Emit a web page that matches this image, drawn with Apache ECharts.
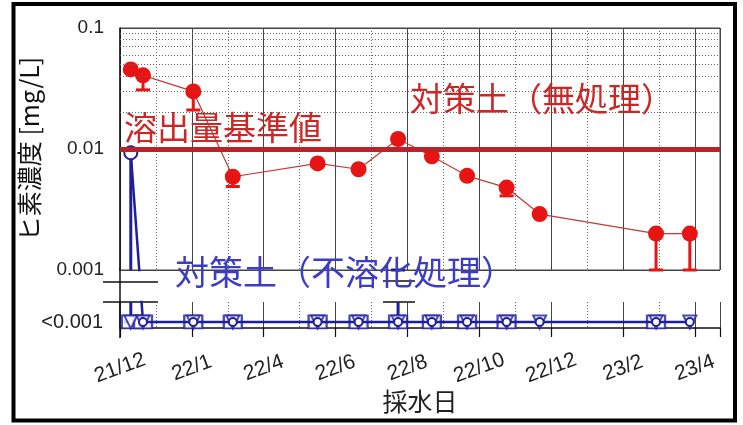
<!DOCTYPE html>
<html lang="ja">
<head>
<meta charset="utf-8">
<title>ヒ素濃度</title>
<script src="https://cdn.jsdelivr.net/npm/echarts/dist/echarts.min.js"></script>
<style>
  html, body { margin: 0; padding: 0; background: #fff; }
  #main { width: 743px; height: 425px; }
</style>
</head>
<body>
<div id="main"></div>
<script type="text/javascript">
// x axis: one unit = one labelled tick
var xLabels = ['21/12', '22/1', '22/4', '22/6', '22/8', '22/10', '22/12', '23/2', '23/4'];
var sampleX = [0.15, 0.32, 1.02, 1.57, 2.75, 3.32, 3.87, 4.34, 4.83, 5.38, 5.84, 7.46, 7.93];

// 対策土(無処理)
var redValues = [0.0455, 0.0406, 0.0299, 0.0059, 0.0076, 0.0068, 0.0121, 0.0087, 0.0060, 0.0048, 0.0029, 0.0020, 0.0020];
var redLow    = [null, 0.0308, 0.021, 0.0049, null, null, null, null, null, 0.0041, null, 0.001, 0.001];

// 対策土(不溶化処理)  ND = plotted level of "<0.001"
var ND = 0.000372;
var blueCircle = [0.0093, ND, ND, ND, ND, ND, ND, ND, ND, ND, ND, ND, ND];
var blueTri    = [ND, ND, ND, ND, ND, ND, ND, ND, ND, ND, ND, ND, ND];
var blueSquare = [ND, ND, ND, ND, ND, ND, ND, ND, ND, ND, null, ND, null];
var blueErr    = [[0.15, ND, 0.01], [3.87, ND, 0.001]];

var threshold = 0.01;
var minorLevels = [0.002, 0.003, 0.004, 0.005, 0.006, 0.007, 0.008, 0.009,
                   0.02, 0.03, 0.04, 0.05, 0.06, 0.07, 0.08, 0.09];

var RED = '#e81414', DARKRED = '#b8242a', NAVY = '#1f1f9e';
var CJK = '"Noto Sans CJK JP", sans-serif';
var LAT = '"Liberation Sans", Arial, sans-serif';

// upper grid 28..270 (0.1..0.001), lower band 302..328 on the same log scale
var decadePx = 121;
var lowMax = 0.001 / Math.pow(10, 32 / decadePx);
var lowMin = 0.001 / Math.pow(10, 58 / decadePx);
var xMax = 8.35;

function pairs(vals) {
    var out = [];
    for (var i = 0; i < vals.length; i++) {
        if (vals[i] != null) out.push([sampleX[i], vals[i]]);
    }
    return out;
}

function errRender(color, width) {
    return function (params, api) {
        var cs = params.coordSys;
        var top = cs.y, bot = cs.y + cs.height;
        var pLo = api.coord([api.value(0), api.value(1)]);
        var pHi = api.coord([api.value(0), api.value(2)]);
        var y1 = Math.max(top, Math.min(bot, pLo[1]));
        var y2 = Math.max(top, Math.min(bot, pHi[1]));
        var st = { stroke: color, lineWidth: width };
        var kids = [];
        if (y1 !== y2) kids.push({ type: 'line', shape: { x1: pLo[0], y1: y1, x2: pLo[0], y2: y2 }, style: st });
        if (pLo[1] >= top && pLo[1] <= bot && api.value(1) !== api.value(2))
            kids.push({ type: 'line', shape: { x1: pLo[0] - 7, y1: pLo[1], x2: pLo[0] + 7, y2: pLo[1] }, style: st });
        if (pHi[1] >= top && pHi[1] <= bot && color === NAVY)
            kids.push({ type: 'line', shape: { x1: pHi[0] - 7, y1: pHi[1], x2: pHi[0] + 7, y2: pHi[1] }, style: st });
        return { type: 'group', children: kids };
    };
}

var redErrData = [];
for (var i = 0; i < redValues.length; i++) {
    if (redLow[i] != null) redErrData.push([sampleX[i], redLow[i], redValues[i]]);
}

function xAxisCfg(idx, lower) {
    return {
        gridIndex: idx, type: 'value', min: 0, max: xMax, interval: 1,
        axisLine: { show: lower, onZero: false, lineStyle: { color: '#111', width: 1.5 } },
        axisTick: { show: lower, length: 9, lineStyle: { color: '#111', width: 1.2 } },
        axisLabel: {
            show: lower, rotate: 20, align: 'center', verticalAlign: 'middle', margin: 40,
            fontFamily: LAT, fontSize: 21, color: '#222',
            formatter: function (v) { return Math.abs(v - Math.round(v)) < 1e-6 ? (xLabels[Math.round(v)] || '') : ''; }
        },
        name: lower ? '採水日' : '', nameLocation: 'middle', nameGap: 60,
        nameTextStyle: { fontFamily: CJK, fontSize: 25, color: '#222' },
        splitLine: { show: true, lineStyle: { color: '#444', width: 1 } },
        minorTick: { show: false, splitNumber: 2 },
        minorSplitLine: { show: true, lineStyle: { color: '#666', width: 1, type: [1, 2] } }
    };
}

var myChart = echarts.init(document.getElementById('main'));
var option = {
    backgroundColor: '#fff',
    animation: false,
    grid: [
        { left: 120, right: 23, top: 28, height: 242, show: true, borderColor: '#444', borderWidth: 1 },
        { left: 120, right: 23, top: 302, height: 26 }
    ],
    xAxis: [xAxisCfg(0, false), xAxisCfg(1, true)],
    yAxis: [
        {
            gridIndex: 0, type: 'log', logBase: 10, min: 0.001, max: 0.1,
            axisLine: { show: true, lineStyle: { color: '#111', width: 1.5 } },
            axisTick: { show: false },
            axisLabel: {
                margin: 16, fontFamily: LAT, fontSize: 19, color: '#222',
                formatter: function (v) { return String(parseFloat(v.toPrecision(6))); }
            },
            splitLine: { show: true, lineStyle: { color: '#444', width: 1 } },
            name: 'ヒ素濃度 [mg/L]', nameLocation: 'middle', nameRotate: 90, nameGap: 78,
            nameTextStyle: { fontFamily: CJK, fontSize: 25, color: '#111' }
        },
        {
            gridIndex: 1, type: 'log', logBase: 10, min: lowMin, max: lowMax,
            axisLine: { show: true, lineStyle: { color: '#111', width: 1.5 } },
            axisTick: { show: false }, axisLabel: { show: false }, splitLine: { show: false }
        }
    ],
    graphic: [
        { type: 'rect', shape: { x: 13.5, y: 4, width: 721.5, height: 416.5 }, style: { fill: 'none', stroke: '#000', lineWidth: 4 } },
        // axis break
        { type: 'line', shape: { x1: 120, y1: 268, x2: 120, y2: 338 }, style: { stroke: '#111', lineWidth: 1.5 } },
        { type: 'line', shape: { x1: 103, y1: 282, x2: 158, y2: 282 }, style: { stroke: '#111', lineWidth: 1.5 } },
        { type: 'line', shape: { x1: 103, y1: 302, x2: 158, y2: 302 }, style: { stroke: '#111', lineWidth: 1.5 } },
        { type: 'line', shape: { x1: 383, y1: 281, x2: 415, y2: 281 }, style: { stroke: '#111', lineWidth: 1.5 } },
        { type: 'line', shape: { x1: 383, y1: 302, x2: 415, y2: 302 }, style: { stroke: '#111', lineWidth: 1.5 } },
        { type: 'text', x: 103, y: 322, style: { text: '<0.001', font: '20px ' + LAT, fill: '#222', textAlign: 'right', textVerticalAlign: 'middle' } },
        { type: 'text', x: 124, y: 127, z: 10, style: { text: '溶出量基準値', font: '33px ' + CJK, fill: '#cc2626', textVerticalAlign: 'middle' } },
        { type: 'text', x: 410, y: 98, z: 10, style: { text: '対策土（無処理）', font: '33px ' + CJK, fill: '#cc2626', textVerticalAlign: 'middle' } },
        { type: 'text', x: 175, y: 272, z: 10, style: { text: '対策土（不溶化処理）', font: '34px ' + CJK, fill: '#3c3cc4', textVerticalAlign: 'middle' } }
    ],
    series: [
        {   // minor log grid + threshold
            type: 'line', xAxisIndex: 0, yAxisIndex: 0, z: 1, silent: true,
            data: [[0, threshold]], symbol: 'none', lineStyle: { opacity: 0 },
            markLine: {
                silent: true, symbol: 'none', label: { show: false }, animation: false,
                data: minorLevels.map(function (v) {
                    return { yAxis: v, lineStyle: { color: '#666', width: 1, type: [1, 2] } };
                }).concat([{ yAxis: threshold, lineStyle: { color: DARKRED, width: 5, type: 'solid' } }])
            }
        },
        {   // ND level line in the lower band
            type: 'line', xAxisIndex: 1, yAxisIndex: 1, z: 1, silent: true,
            data: [[0, ND]], symbol: 'none', lineStyle: { opacity: 0 },
            markLine: {
                silent: true, symbol: 'none', animation: false, label: { show: false },
                lineStyle: { color: '#14144a', width: 1.5, type: 'solid' },
                data: [{ yAxis: ND }]
            }
        },
        {
            type: 'custom', xAxisIndex: 0, yAxisIndex: 0, z: 3, silent: true,
            renderItem: errRender(RED, 3), encode: { x: 0, y: [1, 2] }, data: redErrData
        },
        {
            name: '対策土(無処理)', type: 'line', xAxisIndex: 0, yAxisIndex: 0, z: 4,
            data: pairs(redValues), symbol: 'circle', symbolSize: 16,
            itemStyle: { color: RED }, lineStyle: { color: '#c23a3a', width: 1.2 }
        },
        {
            type: 'custom', xAxisIndex: 0, yAxisIndex: 0, z: 3, silent: true,
            renderItem: errRender(NAVY, 3), encode: { x: 0, y: [1, 2] }, data: blueErr
        },
        {
            type: 'custom', xAxisIndex: 1, yAxisIndex: 1, z: 3, silent: true,
            renderItem: errRender(NAVY, 3), encode: { x: 0, y: [1, 2] }, data: blueErr
        },
        {
            name: '対策土(不溶化処理)', type: 'line', xAxisIndex: 0, yAxisIndex: 0, z: 4,
            data: pairs(blueCircle), symbol: 'emptyCircle', symbolSize: 13,
            itemStyle: { color: NAVY, borderWidth: 2 }, lineStyle: { color: NAVY, width: 2.5 }
        },
        {
            type: 'scatter', xAxisIndex: 1, yAxisIndex: 1, z: 4,
            data: pairs(blueSquare), symbol: 'emptyRect', symbolSize: [18, 13],
            itemStyle: { color: NAVY, borderWidth: 2 }
        },
        {
            type: 'scatter', xAxisIndex: 1, yAxisIndex: 1, z: 5,
            data: pairs(blueTri), symbol: 'emptyTriangle', symbolRotate: 180, symbolSize: 13,
            itemStyle: { color: NAVY, borderWidth: 1.8 }
        },
        {
            type: 'line', xAxisIndex: 1, yAxisIndex: 1, z: 5,
            data: pairs(blueCircle), symbol: 'emptyCircle', symbolSize: 8,
            itemStyle: { color: NAVY, borderWidth: 1.5 }, lineStyle: { color: NAVY, width: 2.5 }
        }
    ]
};
myChart.setOption(option);
</script>
</body>
</html>
